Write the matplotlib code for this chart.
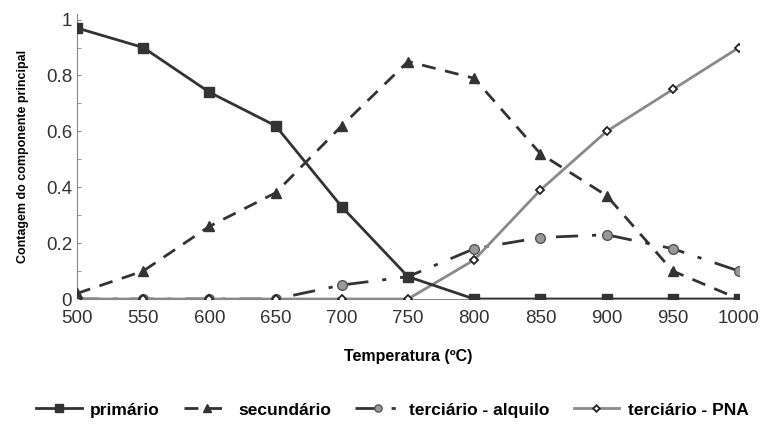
import matplotlib
matplotlib.use("Agg")
import matplotlib.pyplot as plt
from matplotlib.ticker import MultipleLocator

plt.rcParams["font.family"] = ["Liberation Sans", "DejaVu Sans"]

temps = [500, 550, 600, 650, 700, 750, 800, 850, 900, 950, 1000]
primario = [0.97, 0.90, 0.74, 0.62, 0.33, 0.08, 0.0, 0.0, 0.0, 0.0, 0.0]
secundario = [0.02, 0.10, 0.26, 0.38, 0.62, 0.85, 0.79, 0.52, 0.37, 0.10, 0.0]
alquilo = [0.0, 0.0, 0.0, 0.0, 0.05, 0.08, 0.18, 0.22, 0.23, 0.18, 0.10]
pna = [0.0, 0.0, 0.0, 0.0, 0.0, 0.0, 0.14, 0.39, 0.60, 0.75, 0.90]

fig = plt.figure(figsize=(7.62, 4.24), dpi=100)
ax = fig.add_axes([77 / 762, 1 - 299 / 424, (739 - 77) / 762, (299 - 14) / 424])

ax.plot(temps, alquilo, color="#333333", lw=2, ls=(0, (8, 5, 1.5, 5)),
        marker="o", ms=7, mfc="#999999", mec="#555555", label="terciário - alquilo", zorder=2)
ax.plot(temps, pna, color="#8a8a8a", lw=2, marker="D", ms=4.5,
        mfc="white", mec="#222222", mew=1.3, label="terciário - PNA", zorder=3)
ax.plot(temps, secundario, color="#333333", lw=2, ls=(0, (5, 3.5)),
        marker="^", ms=7, mfc="#333333", label="secundário", zorder=4)
ax.plot(temps, primario, color="#333333", lw=2, marker="s", ms=7.5,
        label="primário", zorder=5)

ax.set_xlim(500, 1000)
ax.set_ylim(0, 1.02)
ax.set_xticks(temps)
ax.set_yticks([0, 0.2, 0.4, 0.6, 0.8, 1.0])
ax.set_yticklabels(["0", "0.2", "0.4", "0.6", "0.8", "1"])
ax.yaxis.set_minor_locator(MultipleLocator(0.1))
ax.tick_params(axis="x", length=0, labelsize=13.5, pad=8)
ax.tick_params(axis="y", which="both", direction="in", length=3, labelsize=13.5, color="#888888")
ax.spines["top"].set_visible(False)
ax.spines["right"].set_visible(False)
ax.spines["left"].set_color("#888888")
ax.spines["bottom"].set_color("#888888")
for lab in ax.get_xticklabels() + ax.get_yticklabels():
    lab.set_color("#333333")

ax.set_xlabel("Temperatura (ºC)", fontsize=11.5, fontweight="bold", labelpad=16)
ax.set_ylabel("Contagem do componente principal", fontsize=9, fontweight="bold", labelpad=12)

handles, labels = ax.get_legend_handles_labels()
order = [3, 2, 0, 1]
fig.legend([handles[i] for i in order], [labels[i] for i in order],
           loc="center", bbox_to_anchor=(0.515, 1 - 410 / 424), ncol=4,
           frameon=False, prop={"weight": "bold", "size": 12.5},
           handlelength=2.6, columnspacing=1.4, handletextpad=0.5, markerscale=0.75)

fig.savefig("out.png", dpi=100)
